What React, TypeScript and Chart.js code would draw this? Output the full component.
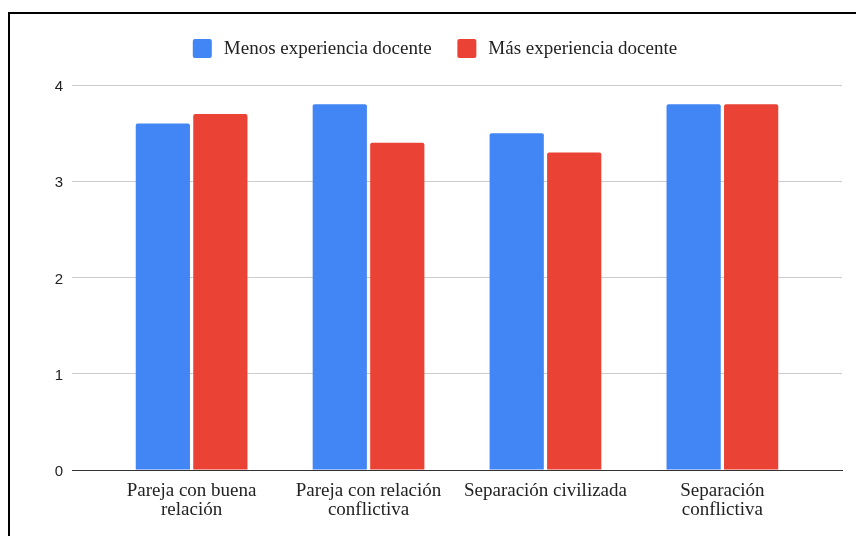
import { useEffect, useRef } from 'react';
import { Chart, registerables } from 'chart.js';

Chart.register(...registerables);

const CATEGORIES: string[][] = [
  ['Pareja con buena', 'relación'],
  ['Pareja con relación', 'conflictiva'],
  ['Separación civilizada'],
  ['Separación', 'conflictiva'],
];
const SERIES_NAMES = ['Menos experiencia docente', 'Más experiencia docente'];
const MENOS = [3.6, 3.8, 3.5, 3.8];
const MAS = [3.7, 3.4, 3.3, 3.8];
const Y_MIN = 0;
const Y_MAX = 4;
const Y_STEP = 1;

const BLUE = '#4285F4';
const RED = '#EA4335';

const LEGEND_FONT = '19px "Liberation Serif"';

const customLegend = {
  id: 'customLegend',
  afterDraw(chart: any) {
    const ctx = chart.ctx;
    const box = 19;
    const gap = 12;
    const itemGap = 25.7;
    ctx.save();
    ctx.font = LEGEND_FONT;
    const items = chart.data.datasets.map((d: any) => ({
      text: d.label,
      color: d.backgroundColor,
      w: ctx.measureText(d.label).width,
    }));
    const total =
      items.reduce((s: number, it: any) => s + box + gap + it.w, 0) + itemGap * (items.length - 1);
    let x = (chart.width - total) / 2 + 2;
    const top = 28;
    ctx.textBaseline = 'middle';
    ctx.textAlign = 'left';
    for (const it of items) {
      ctx.fillStyle = it.color;
      ctx.beginPath();
      if ((ctx as any).roundRect) (ctx as any).roundRect(x, top, box, box, 2);
      else ctx.rect(x, top, box, box);
      ctx.fill();
      ctx.fillStyle = '#222';
      ctx.fillText(it.text, x + box + gap, top + box / 2 + 0.5);
      x += box + gap + it.w + itemGap;
    }
    ctx.restore();
  },
};

export default function App() {
  const ref = useRef<HTMLCanvasElement | null>(null);

  useEffect(() => {
    if (!ref.current) return;
    const chart = new Chart(ref.current, {
      type: 'bar',
      data: {
        datasets: [
          {
            label: SERIES_NAMES[0],
            data: MENOS.map((v, i) => ({ x: i, y: v })),
            backgroundColor: BLUE,
            borderWidth: 0,
            borderRadius: 2,
            categoryPercentage: 0.65,
            barPercentage: 0.943,
          },
          {
            label: SERIES_NAMES[1],
            data: MAS.map((v, i) => ({ x: i, y: v })),
            backgroundColor: RED,
            borderWidth: 0,
            borderRadius: 2,
            categoryPercentage: 0.65,
            barPercentage: 0.943,
          },
        ],
      },
      options: {
        responsive: false,
        animation: false,
        devicePixelRatio: 1,
        layout: { padding: { top: 74, right: 14, bottom: 0, left: 0 } },
        plugins: {
          legend: { display: false },
          tooltip: { enabled: false },
        },
        scales: {
          x: {
            type: 'linear',
            offset: false,
            min: -0.676,
            max: 3.676,
            afterBuildTicks: (s: any) => {
              s.ticks = CATEGORIES.map((_, i) => ({ value: i }));
            },
            afterFit: (s: any) => {
              s.height = 66;
            },
            grid: { display: false, offset: false },
            border: { display: true, color: '#333', width: 1 },
            ticks: {
              padding: 4,
              color: '#222',
              autoSkip: false,
              maxRotation: 0,
              font: { family: 'Liberation Serif', size: 19, lineHeight: 1.0 },
              callback: (v: any) => CATEGORIES[v] ?? '',
            },
          },
          y: {
            min: Y_MIN,
            max: Y_MAX,
            afterFit: (s: any) => {
              s.width = 62;
            },
            ticks: {
              stepSize: Y_STEP,
              padding: 9,
              labelOffset: 2,
              color: '#222',
              font: { family: 'Liberation Sans', size: 15 },
            },
            grid: {
              drawTicks: false,
              color: (ctx: any) => (ctx.tick && ctx.tick.value === 0 ? '#333' : '#ccc'),
            },
            border: { display: false },
          },
        },
      } as any,
      plugins: [customLegend],
    });
    return () => chart.destroy();
  }, []);

  return (
    <div
      style={{
        position: 'fixed',
        left: 0,
        top: 0,
        width: 856,
        height: 536,
        overflow: 'hidden',
        background: '#fff',
      }}
    >
      <div
        style={{
          position: 'absolute',
          left: 8,
          top: 12,
          width: 900,
          height: 600,
          border: '2px solid #000',
          boxSizing: 'border-box',
        }}
      />
      <canvas
        ref={ref}
        width={846}
        height={525}
        style={{ position: 'absolute', left: 10, top: 11, width: 846, height: 525 }}
      />
    </div>
  );
}
